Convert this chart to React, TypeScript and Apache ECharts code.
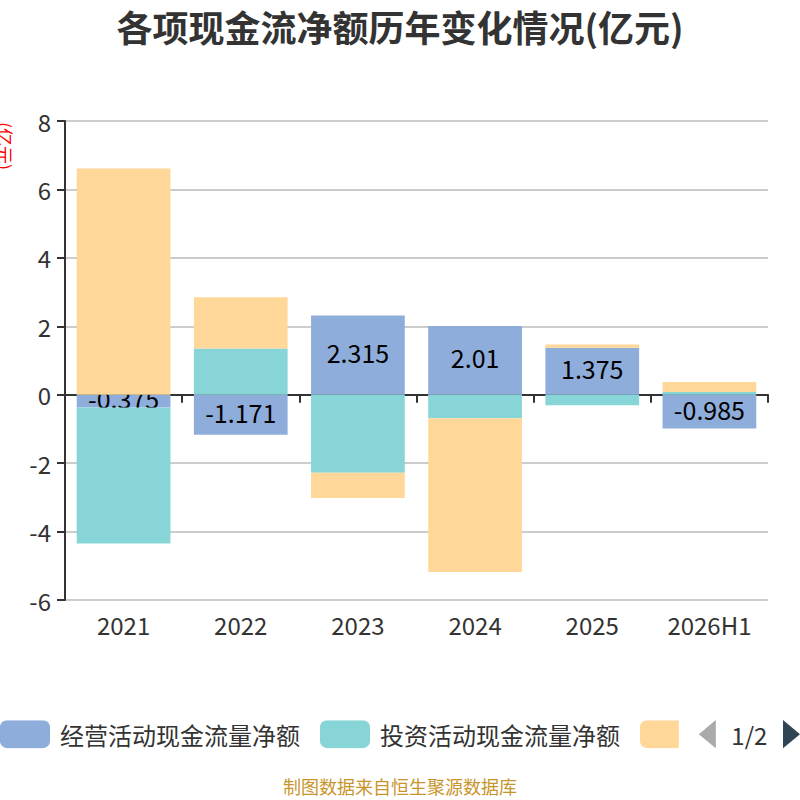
import React, { useEffect, useRef } from "react";
import * as echarts from "echarts";

const categories = ["2021", "2022", "2023", "2024", "2025", "2026H1"];
const seriesNames = ["经营活动现金流量净额", "投资活动现金流量净额", "筹资活动现金流量净额"];
const operating = [-0.375, -1.171, 2.315, 2.01, 1.375, -0.985];
const investing = [-3.97, 1.35, -2.28, -0.69, -0.31, 0.08];
const financing = [6.61, 1.5, -0.74, -4.49, 0.09, 0.29];
const yTicks = { min: -6, max: 8, interval: 2 };

const FONT = "'Noto Sans CJK SC', 'Noto Sans', sans-serif";

export default function App() {
  const ref = useRef<HTMLDivElement>(null);
  useEffect(() => {
    if (!ref.current) return;
    const chart = echarts.init(ref.current, null, { renderer: "svg" });
    const option = {
      animation: false,
      textStyle: { fontFamily: FONT },
      title: {
        text: "各项现金流净额历年变化情况(亿元)",
        left: "center",
        top: 3,
        textStyle: { fontSize: 36, fontWeight: "bold", color: "#333", fontFamily: FONT },
      },
      color: ["#8FADDB", "#88D5D8", "#FFD899"],
      grid: { left: 65, right: 32, top: 121, bottom: 200 },
      legend: {
        type: "scroll",
        left: 0,
        right: -2,
        top: 720,
        padding: 0,
        itemWidth: 50,
        itemHeight: 28,
        itemGap: 20,
        icon: "roundRect",
        textStyle: { fontSize: 24, color: "#333", fontFamily: FONT, padding: [0, 0, 0, 5] },
        pageIconSize: [17, 29],
        pageIconColor: "#2f4554",
        pageIconInactiveColor: "#aaa",
        pageButtonItemGap: 5,
        pageButtonGap: 20,
        pageTextStyle: { fontSize: 24, color: "#333" },
        data: seriesNames,
      },
      graphic: [
        {
          type: "text",
          x: 5,
          y: 146,
          rotation: -Math.PI / 2,
          style: {
            text: "(亿元)",
            fill: "#ff0000",
            fontSize: 18,
            fontFamily: FONT,
            align: "center",
            verticalAlign: "middle",
          },
        },
        {
          type: "text",
          left: "center",
          top: 777,
          style: {
            text: "制图数据来自恒生聚源数据库",
            fill: "#C8952C",
            fontSize: 18,
            fontFamily: FONT,
          },
        },
      ],
      xAxis: [
        {
          type: "category",
          data: categories,
          position: "bottom",
          axisLine: { show: false, onZero: false },
          axisTick: { show: false },
          axisLabel: { fontSize: 24, color: "#333", margin: 12, fontFamily: FONT },
        },
        {
          type: "category",
          data: categories,
          position: "bottom",
          axisLine: { show: true, onZero: true, lineStyle: { color: "#333", width: 2 } },
          axisTick: { show: true, length: 8, lineStyle: { color: "#333", width: 2 } },
          axisLabel: { show: false },
        },
      ],
      yAxis: {
        type: "value",
        min: yTicks.min,
        max: yTicks.max,
        interval: yTicks.interval,
        axisLine: { show: true, lineStyle: { color: "#333", width: 2 } },
        axisTick: { show: true, length: 8, lineStyle: { color: "#333", width: 2 } },
        axisLabel: { fontSize: 24, color: "#333", margin: 14, fontFamily: FONT },
        splitLine: { lineStyle: { color: "#ccc", width: 2 } },
      },
      series: [
        {
          name: seriesNames[0],
          type: "bar",
          stack: "total",
          barWidth: "80%",
          z: 1,
          data: operating,
          label: {
            show: true,
            position: "inside",
            offset: [0, -3],
            color: "#000",
            fontSize: 25,
            fontFamily: FONT,
          },
        },
        {
          name: seriesNames[1],
          type: "bar",
          stack: "total",
          barWidth: "80%",
          z: 3,
          data: investing,
        },
        {
          name: seriesNames[2],
          type: "bar",
          stack: "total",
          barWidth: "80%",
          z: 3,
          data: financing,
        },
      ],
    };
    chart.setOption(option as any);
    return () => chart.dispose();
  }, []);
  return <div ref={ref} style={{ width: 800, height: 800, position: "absolute", left: 0, top: 0 }} />;
}
